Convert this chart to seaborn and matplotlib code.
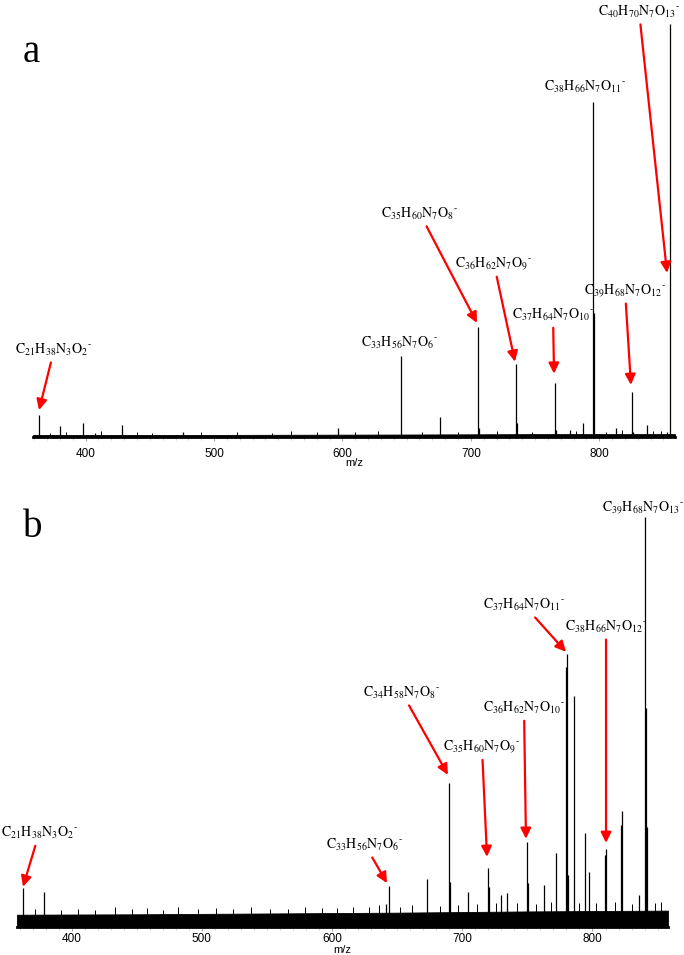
import matplotlib.pyplot as plt
import matplotlib.ticker as mticker
import seaborn as sns

# ---- panel a: centroid peaks (m/z, relative intensity %) ----
mz_a = [363.7, 380.0, 397.9, 407.3, 428.3, 475.8, 596.5, 645.6, 676.0, 705.6, 706.4,
        735.2, 736.0, 765.5, 766.3, 777.2, 787.3, 795.1, 795.8, 813.1, 825.5, 826.3,
        837.2, 852.8, 855.1]
int_a = [5.3, 2.7, 3.4, 1.0, 2.9, 1.2, 2.2, 19.6, 4.8, 26.6, 2.2,
         17.7, 3.4, 13.1, 1.7, 1.7, 3.4, 81.1, 30.0, 2.2, 10.9, 1.2,
         2.9, 1.2, 100.0]
noise_a_mz = [372, 385, 412, 440, 452, 490, 518, 545, 560, 580, 610, 628, 662, 690,
              720, 748, 782, 805, 818, 842, 848]
noise_a_int = [1.0, 1.2, 1.4, 1.1, 1.0, 1.3, 1.2, 1.0, 1.4, 1.1, 1.2, 1.5, 1.3, 1.2,
               1.4, 1.3, 1.5, 1.2, 1.6, 1.4, 1.5]
floor_a_mz = [359, 500, 650, 750, 859]
floor_a_int = [0.5, 0.5, 0.6, 0.7, 0.7]

# ---- panel b ----
mz_b = [362.6, 378.7, 641.4, 643.7, 672.9, 689.8, 690.6, 704.4, 719.8, 720.5, 729.7,
        734.3, 749.7, 750.5, 762.8, 772.0, 779.4, 780.4, 781.2, 785.8, 794.3, 797.3,
        809.6, 810.4, 822.0, 822.8, 835.7, 840.3, 841.1, 841.8]
int_b = [9.5, 8.5, 5.6, 10.0, 11.7, 35.1, 11.0, 8.5, 14.4, 9.8, 7.8,
         8.3, 20.7, 10.7, 10.2, 18.0, 63.4, 66.6, 12.7, 56.3, 22.9, 13.4,
         17.6, 19.0, 24.9, 28.3, 7.8, 100.0, 53.4, 24.4]
noise_b_mz = [372, 392, 405, 418, 433, 446, 458, 470, 482, 497, 511, 524, 538, 552,
              566, 579, 592, 604, 616, 628, 636, 652, 661, 683, 697, 711, 726, 742,
              757, 768, 790, 803, 817, 830, 848, 853]
noise_b_int = [4.3, 4.1, 4.5, 4.2, 4.8, 4.3, 4.6, 4.2, 4.9, 4.4, 4.7, 4.3, 4.8, 4.5,
               4.4, 4.9, 4.6, 4.7, 5.0, 4.8, 5.4, 5.0, 5.3, 5.1, 5.4, 5.6, 5.8, 5.9,
               5.6, 6.0, 5.8, 5.9, 6.1, 5.6, 5.8, 6.0]
floor_b_mz = [358, 450, 550, 650, 750, 858]
floor_b_int = [3.0, 3.1, 3.3, 3.5, 3.8, 4.0]


def formula(c, h, n, o):
    return r'$\mathrm{C_{%s}H_{%s}N_{%s}O_{%s}{}^{\text{-}}}$' % (c, h, n, o)


# ---- annotations: label, text position (mz, %), arrow tip (mz, %) or None ----
labels_a = [formula(21, 38, 3, 2), formula(33, 56, 7, 6), formula(35, 60, 7, 8),
            formula(36, 62, 7, 9), formula(37, 64, 7, 10), formula(39, 68, 7, 12),
            formula(38, 66, 7, 11), formula(40, 70, 7, 13)]
text_a = [(375.4, 21.1), (644.8, 22.8), (660.4, 54.0), (718.0, 41.9),
          (764.0, 29.5), (820.1, 35.4), (788.9, 84.7), (831.0, 102.9)]
tips_a = [(363.7, 6.5), None, (704.8, 27.6), (734.4, 18.2),
          (764.8, 15.3), (824.7, 12.6), None, (852.8, 39.7)]

labels_b = [formula(21, 38, 3, 2), formula(33, 56, 7, 6), formula(34, 58, 7, 8),
            formula(35, 60, 7, 9), formula(36, 62, 7, 10), formula(37, 64, 7, 11),
            formula(38, 66, 7, 12), formula(39, 68, 7, 13)]
text_b = [(375.0, 22.9), (625.3, 20.0), (653.7, 57.1), (715.1, 43.9),
          (747.4, 53.4), (747.4, 78.5), (810.4, 73.2), (838.5, 102.2)]
tips_b = [(362.6, 9.8), (642.2, 10.7), (689.0, 37.1), (719.0, 17.1),
          (748.9, 21.5), (779.7, 67.1), (810.4, 20.5), None]

sns.set_style("white")
plt.rcParams['font.family'] = ['Liberation Sans', 'DejaVu Sans']
plt.rcParams['mathtext.fontset'] = 'stix'
plt.rcParams['text.color'] = 'black'
plt.rcParams['xtick.labelcolor'] = 'black'
plt.rcParams['axes.labelcolor'] = 'black'

fig = plt.figure(figsize=(6.84, 9.55), dpi=100)
W, H = 684, 955
ax_a = fig.add_axes([33 / W, (H - 437) / H, 642 / W, 434 / H])
ax_b = fig.add_axes([17 / W, (H - 927) / H, 651 / W, 430.5 / H])


def draw_panel(ax, mz, inten, nmz, nint, fmz, fint, xlim, labels, texts, tips, pad, label_y):
    ax.fill_between(fmz, 0, fint, color='black', lw=0.6)
    ax.vlines(nmz, 0, nint, color='black', lw=0.7)
    ax.vlines(mz, 0, inten, color='black', lw=0.9)
    ax.set_xlim(*xlim)
    ax.set_ylim(0, 105)
    ax.set_yticks([])
    sns.despine(ax=ax, left=True)
    ax.spines['bottom'].set_linewidth(2.0)
    ax.spines['bottom'].set_color('black')
    ax.xaxis.set_major_locator(mticker.MultipleLocator(100))
    ax.xaxis.set_minor_locator(mticker.MultipleLocator(10))
    ax.tick_params(axis='x', which='major', length=3, width=0.6, color='#999999',
                   labelsize=8.5, pad=pad, bottom=True)
    ax.tick_params(axis='x', which='minor', length=2, width=0.5, color='#bbbbbb', bottom=True)
    ax.set_xlabel('m/z', fontsize=8, va='center')
    ax.xaxis.set_label_coords(0.5, label_y)
    for lbl, (tx, ty), tip in zip(labels, texts, tips):
        if tip is None:
            ax.text(tx, ty, lbl, ha='center', va='center', fontsize=10, clip_on=False)
        else:
            ax.annotate(lbl, xy=tip, xytext=(tx, ty), ha='center', va='center',
                        fontsize=10, annotation_clip=False,
                        arrowprops=dict(arrowstyle='-|>,head_length=0.45,head_width=0.22',
                                        color='red', lw=1.6, shrinkA=1, shrinkB=0,
                                        mutation_scale=14))


draw_panel(ax_a, mz_a, int_a, noise_a_mz, noise_a_int, floor_a_mz, floor_a_int,
           (359, 859), labels_a, text_a, tips_a, 5, -0.061)
draw_panel(ax_b, mz_b, int_b, noise_b_mz, noise_b_int, floor_b_mz, floor_b_int,
           (358, 858), labels_b, text_b, tips_b, 1, -0.054)

fig.text(23 / W, 1 - 62 / H, 'a', fontsize=28, family='Liberation Serif', va='baseline')
fig.text(23 / W, 1 - 537 / H, 'b', fontsize=28, family='Liberation Serif', va='baseline')

fig.savefig('out.png', dpi=100)
